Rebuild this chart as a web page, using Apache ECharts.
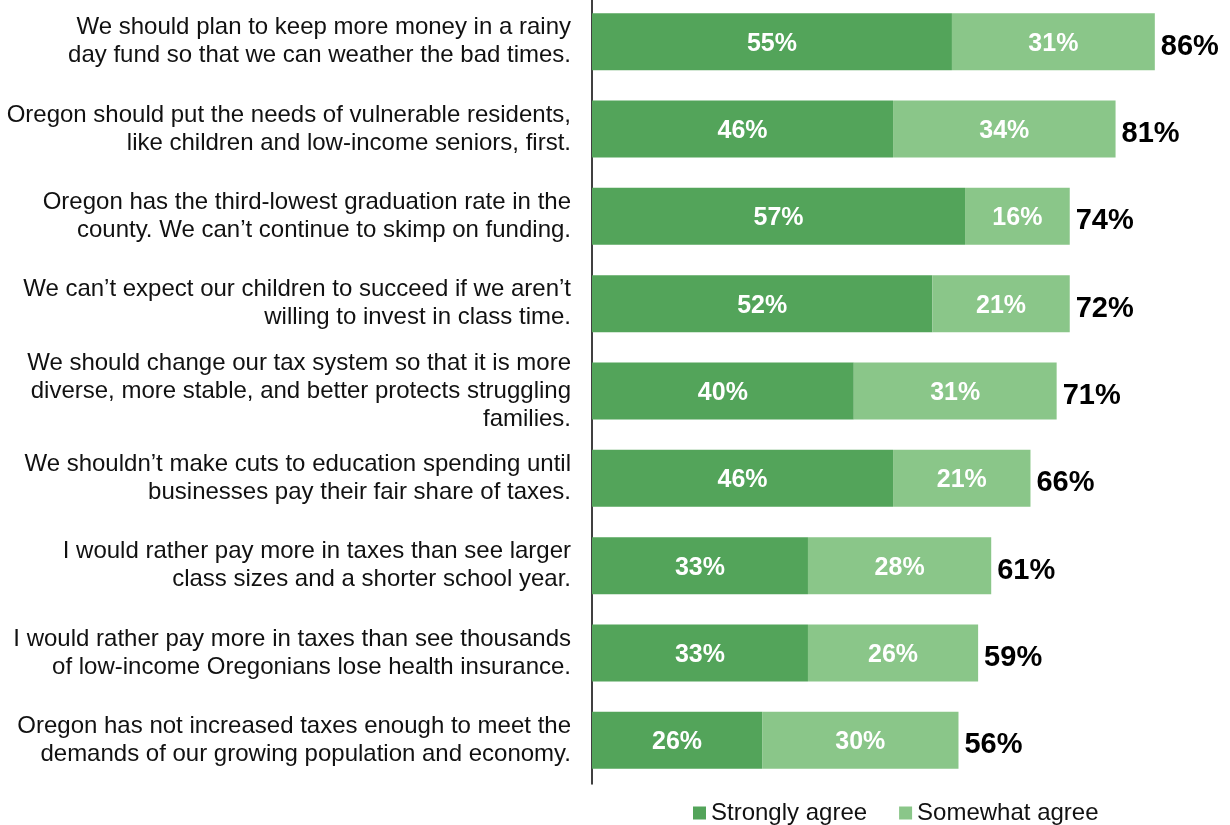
<!DOCTYPE html>
<html>
<head>
<meta charset="utf-8">
<script src="https://cdn.jsdelivr.net/npm/echarts@6/dist/echarts.min.js"></script>
<style>
  html, body { margin: 0; padding: 0; background: #fff; overflow: hidden; }
  #chart { width: 1230px; height: 827px; margin-top: -2px; }
</style>
</head>
<body>
<div id="chart"></div>
<script>
// Survey statements, top to bottom
const statements = [
  "We should plan to keep more money in a rainy\nday fund so that we can weather the bad times.",
  "Oregon should put the needs of vulnerable residents,\nlike children and low-income seniors, first.",
  "Oregon has the third-lowest graduation rate in the\ncounty. We can\u2019t continue to skimp on funding.",
  "We can\u2019t expect our children to succeed if we aren\u2019t\nwilling to invest in class time.",
  "We should change our tax system so that it is more\ndiverse, more stable, and better protects struggling\nfamilies.",
  "We shouldn\u2019t make cuts to education spending until\nbusinesses pay their fair share of taxes.",
  "I would rather pay more in taxes than see larger\nclass sizes and a shorter school year.",
  "I would rather pay more in taxes than see thousands\nof low-income Oregonians lose health insurance.",
  "Oregon has not increased taxes enough to meet the\ndemands of our growing population and economy."
];

// Percent of respondents
const stronglyAgree  = [55, 46, 57, 52, 40, 46, 33, 33, 26];
const somewhatAgree  = [31, 34, 16, 21, 31, 21, 28, 26, 30];
const totalAgree     = [86, 81, 74, 72, 71, 66, 61, 59, 56];

const DARK = '#53a45a';
const LIGHT = '#8ac689';
const FONT = 'Arial, "Liberation Sans", sans-serif';

const chart = echarts.init(document.getElementById('chart'));

const insideLabel = {
  show: true,
  position: 'inside',
  offset: [0, 2],
  color: '#ffffff',
  fontFamily: FONT,
  fontSize: 25,
  fontWeight: 'bold',
  formatter: p => p.value + '%'
};

chart.setOption({
  animation: false,
  backgroundColor: '#ffffff',
  textStyle: { fontFamily: FONT },
  grid: { left: 592, top: 0, width: 589, height: 786, containLabel: false },
  xAxis: {
    type: 'value',
    min: 0,
    max: 90,
    show: false
  },
  yAxis: {
    type: 'category',
    inverse: true,
    data: statements,
    axisLine: { show: true, lineStyle: { color: '#000000', width: 1.5 } },
    axisTick: { show: false },
    splitLine: { show: false },
    axisLabel: {
      margin: 21,
      align: 'right',
      color: '#111111',
      fontFamily: FONT,
      fontSize: 24,
      lineHeight: 28
    }
  },
  legend: {
    data: ['Strongly agree', 'Somewhat agree'],
    left: 693,
    top: 803,
    padding: 0,
    itemWidth: 13,
    itemHeight: 13,
    itemGap: 32,
    icon: 'rect',
    textStyle: { fontFamily: FONT, fontSize: 24, color: '#111111' }
  },
  series: [
    {
      name: 'Strongly agree',
      type: 'bar',
      stack: 'agree',
      barWidth: 57,
      itemStyle: { color: DARK },
      label: insideLabel,
      data: stronglyAgree
    },
    {
      name: 'Somewhat agree',
      type: 'bar',
      stack: 'agree',
      barWidth: 57,
      itemStyle: { color: LIGHT },
      label: insideLabel,
      data: somewhatAgree
    },
    {
      // zero-length segment carrying the overall total at the end of each bar
      name: 'Total',
      type: 'bar',
      stack: 'agree',
      barWidth: 57,
      itemStyle: { color: 'rgba(0,0,0,0)' },
      label: {
        show: true,
        position: 'right',
        distance: 6,
        offset: [0, 5],
        color: '#000000',
        fontFamily: FONT,
        fontSize: 29,
        fontWeight: 'bold',
        formatter: p => totalAgree[p.dataIndex] + '%'
      },
      data: totalAgree.map(() => 0)
    }
  ]
});
</script>
</body>
</html>
